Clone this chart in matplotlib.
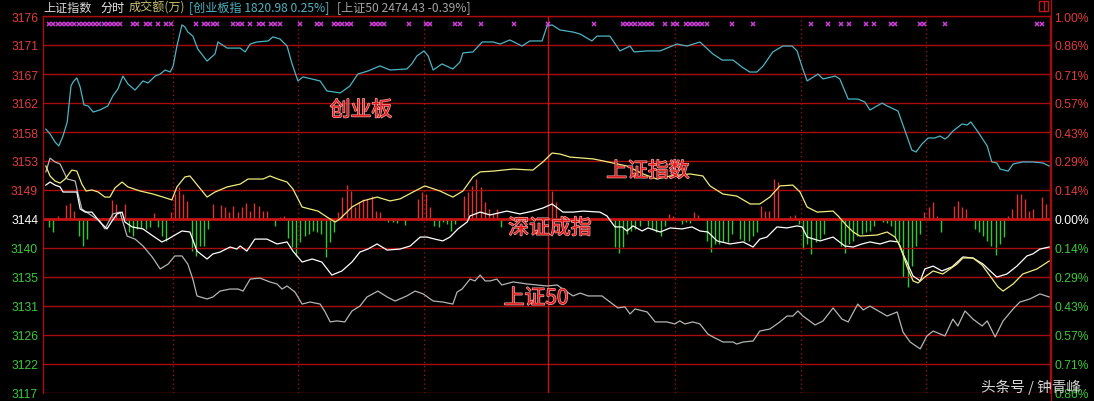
import numpy as np
import matplotlib
matplotlib.use("Agg")
import matplotlib.pyplot as plt
from matplotlib import patheffects as pe
from matplotlib.patches import Rectangle
from matplotlib.lines import Line2D
import matplotlib.transforms as mtransforms

plt.rcParams['font.family'] = ['Noto Sans CJK SC', 'DejaVu Sans']

# 分时: minute since 9:30 (0..240), change in percent
cyb = [(0.2, .443), (1.2, .419), (2.4, .379), (3.3, .360), (4.3, .409), (5.3, .478), (6.2, .655), (6.7, .675),
       (7.6, .695), (8.4, .650), (9.3, .562), (10.3, .557), (11.5, .527), (13.1, .537), (15.0, .557), (16.2, .606),
       (17.4, .640), (18.6, .704), (19.8, .665), (21.5, .635), (23.4, .680), (24.6, .670), (26.3, .704), (27.5, .714),
       (28.7, .734), (29.9, .724), (30.6, .754), (31.5, .852), (32.7, .956), (33.4, .946), (34.1, .921), (35.3, .901),
       (36.5, .837), (38.7, .778), (40.6, .813), (41.3, .872), (43.5, .842), (46.6, .842), (47.8, .823), (49.0, .862),
       (50.6, .872), (53.3, .877), (54.4, .897), (56.1, .887), (57.8, .852), (59.0, .764), (60.4, .680), (61.6, .700),
       (65.7, .680), (67.3, .631), (70.5, .621), (72.8, .655), (74.7, .714), (77.1, .729), (80.0, .754), (82.4, .734),
       (86.4, .739), (87.6, .764), (88.8, .803), (90.5, .828), (91.5, .803), (92.7, .734), (94.8, .764), (97.4, .739),
       (99.1, .773), (99.8, .818), (102.2, .823), (104.4, .872), (107.0, .872), (108.7, .862), (111.0, .882),
       (113.9, .852), (115.8, .877), (118.7, .877), (119.9, .951), (121.1, .956), (123.0, .931), (126.1, .921),
       (127.8, .911), (130.6, .877), (131.8, .901), (134.9, .901), (137.3, .828), (139.7, .852), (140.7, .823),
       (143.8, .828), (146.9, .828), (150.9, .862), (153.3, .852), (156.4, .872), (159.5, .813), (161.7, .783),
       (164.3, .783), (166.4, .749), (168.3, .724), (170.0, .724), (171.5, .754), (173.8, .823), (176.2, .852),
       (178.4, .852), (179.6, .828), (180.8, .749), (182.0, .680), (184.6, .714), (185.8, .690), (188.7, .704),
       (189.8, .690), (191.8, .591), (194.1, .591), (195.8, .576), (197.0, .537), (199.9, .571), (201.1, .557),
       (203.7, .532), (205.4, .433), (207.0, .340), (208.0, .330), (209.4, .369), (210.9, .399), (212.5, .399),
       (213.7, .409), (214.9, .394), (215.6, .404), (216.8, .433), (219.0, .468), (220.2, .463), (221.1, .478),
       (222.8, .429), (225.0, .360), (226.1, .281), (227.3, .276), (228.1, .246), (230.0, .236), (231.2, .271),
       (233.5, .281), (235.9, .281), (238.3, .276), (239.8, .261)]

shzs = [(0.2, .261), (1.2, .212), (2.4, .187), (3.6, .177), (4.8, .197), (6.4, .241), (7.6, .236), (8.8, .172),
        (9.8, .138), (11.2, .143), (12.7, .133), (14.3, .108), (15.5, .108), (16.7, .153), (18.4, .182), (19.8, .158),
        (22.7, .138), (25.8, .123), (28.2, .108), (30.3, .094), (31.5, .158), (33.4, .207), (34.6, .212), (35.8, .182),
        (38.7, .108), (40.6, .133), (43.5, .158), (46.6, .172), (48.5, .197), (52.1, .197), (53.7, .212), (55.6, .197),
        (57.8, .182), (59.2, .148), (61.4, .059), (63.3, .049), (65.2, .039), (67.3, .010), (69.3, -.015), (70.4, 0.0),
        (73.3, .059), (75.9, .089), (79.3, .108), (82.4, .089), (84.8, .099), (87.9, .133), (90.7, .163), (94.3, .138),
        (97.4, .108), (99.8, .138), (102.2, .207), (103.9, .232), (107.0, .236), (111.8, .246), (116.5, .241),
        (118.9, .281), (121.1, .325), (123.0, .320), (125.4, .305), (130.9, .296), (133.3, .286), (139.0, .261),
        (142.8, .222), (146.1, .197), (149.3, .212), (154.0, .222), (157.1, .212), (158.8, .163), (161.9, .123),
        (165.2, .113), (168.4, .074), (170.7, .074), (173.1, .108), (175.5, .163), (178.6, .167), (180.3, .133),
        (182.0, .059), (184.4, .034), (188.2, .039), (189.4, .015), (191.5, -.034), (193.0, -.064), (194.6, -.084),
        (198.7, -.079), (201.1, -.064), (203.0, -.089), (204.2, -.133), (205.8, -.232), (207.3, -.305), (208.5, -.315),
        (210.1, -.286), (212.1, -.256), (214.4, -.271), (217.8, -.222), (219.2, -.192), (221.6, -.192), (223.8, -.227),
        (225.7, -.281), (227.6, -.335), (228.8, -.355), (231.2, -.320), (233.5, -.271), (236.9, -.246), (239.8, -.207)]

szcz = [(0.2, .167), (1.2, .182), (2.4, .167), (3.6, .158), (4.3, .133), (6.4, .133), (7.6, .133), (8.4, .049),
        (9.6, .034), (11.2, .034), (13.1, -.015), (14.8, -.049), (16.0, -.010), (17.2, .025), (18.4, .034),
        (19.1, -.015), (20.8, -.039), (23.4, -.049), (25.8, -.084), (27.9, -.113), (29.4, -.099), (30.6, -.084),
        (32.7, -.059), (34.6, -.064), (36.3, -.158), (38.7, -.197), (40.1, -.172), (41.8, -.163), (44.2, -.138),
        (45.8, -.148), (46.6, -.133), (48.2, -.158), (50.1, -.099), (53.0, -.099), (55.4, -.123), (57.8, -.113),
        (59.2, -.158), (61.4, -.212), (63.8, -.197), (66.1, -.212), (68.5, -.276), (70.9, -.256), (73.3, -.212),
        (75.2, -.163), (77.1, -.148), (79.3, -.123), (81.7, -.153), (84.8, -.148), (87.2, -.133), (89.6, -.089),
        (91.2, -.089), (93.1, -.099), (95.0, -.108), (96.7, -.089), (98.6, -.049), (100.8, -.015), (101.5, .015),
        (103.9, .034), (106.3, .020), (110.3, .039), (113.4, .025), (116.5, .039), (118.9, .054), (121.1, .074),
        (123.7, .034), (126.1, .034), (128.5, .039), (132.5, .034), (134.2, .015), (136.1, -.039), (137.8, -.039),
        (139.0, -.059), (140.4, -.034), (142.6, -.059), (144.0, -.044), (146.9, -.064), (149.3, -.044), (152.1, -.049),
        (154.5, -.039), (156.4, -.059), (158.3, -.064), (160.5, -.108), (163.6, -.123), (166.7, -.113), (169.1, -.138),
        (170.7, -.099), (172.4, -.089), (174.8, -.039), (177.2, -.044), (179.6, -.034), (180.8, -.039), (182.0, -.089),
        (185.1, -.108), (188.2, -.089), (191.0, -.133), (193.0, -.138), (195.1, -.123), (197.0, -.113), (199.4, -.123),
        (201.8, -.108), (203.7, -.113), (204.7, -.163), (205.8, -.212), (207.3, -.281), (209.0, -.305), (210.1, -.246),
        (212.1, -.232), (214.2, -.256), (216.6, -.236), (219.2, -.187), (221.6, -.192), (224.0, -.222), (225.2, -.246),
        (227.3, -.286), (229.7, -.271), (232.1, -.232), (234.5, -.182), (235.9, -.172), (237.6, -.148), (239.8, -.138)]

sz50 = [(0.2, .232), (1.2, .300), (2.4, .281), (3.6, .271), (5.3, .197), (7.2, .187), (7.9, .123), (8.8, .049),
        (13.1, -.010), (14.3, -.049), (16.2, .025), (17.9, .034), (19.6, -.084), (21.5, -.099), (23.4, -.133),
        (25.6, -.187), (27.5, -.246), (29.4, -.222), (31.0, -.182), (32.7, -.182), (34.1, -.222), (35.3, -.296),
        (36.3, -.379), (38.7, -.394), (40.1, -.384), (41.8, -.355), (44.2, -.345), (46.1, -.345), (47.3, -.355),
        (49.0, -.296), (51.3, -.291), (53.7, -.310), (55.4, -.320), (56.6, -.345), (57.8, -.330), (59.7, -.360),
        (61.4, -.419), (63.3, -.409), (65.7, -.419), (66.9, -.458), (68.1, -.507), (69.7, -.502), (71.6, -.507),
        (73.3, -.453), (75.2, -.429), (76.9, -.384), (79.5, -.355), (81.7, -.384), (83.6, -.404), (86.4, -.379),
        (88.4, -.355), (90.3, -.369), (92.7, -.404), (95.0, -.409), (97.4, -.419), (98.4, -.360), (99.6, -.345),
        (101.5, -.296), (102.7, -.305), (103.9, -.276), (105.1, -.305), (106.3, -.305), (107.9, -.296), (109.1, -.325),
        (111.8, -.310), (115.1, -.320), (117.5, -.325), (119.9, -.330), (122.3, -.325), (124.7, -.360), (126.1, -.379),
        (127.8, -.365), (129.7, -.379), (133.0, -.379), (135.6, -.419), (136.8, -.438), (138.5, -.433), (139.7, -.468),
        (140.9, -.443), (143.8, -.458), (145.7, -.507), (148.5, -.507), (150.4, -.517), (151.6, -.502), (152.8, -.517),
        (154.7, -.507), (156.4, -.517), (158.3, -.567), (159.5, -.581), (161.9, -.606), (164.3, -.606), (165.2, -.616),
        (166.7, -.606), (169.1, -.601), (170.7, -.552), (173.1, -.542), (175.5, -.507), (177.2, -.478), (178.6, -.478),
        (179.8, -.453), (181.0, -.478), (183.9, -.522), (185.8, -.502), (188.2, -.438), (190.3, -.493), (191.8, -.507),
        (194.1, -.419), (195.4, -.448), (197.0, -.429), (199.4, -.458), (201.1, -.478), (203.5, -.458), (204.9, -.557),
        (206.6, -.606), (209.0, -.640), (210.6, -.576), (212.1, -.552), (214.9, -.576), (216.8, -.493), (218.0, -.527),
        (219.7, -.453), (221.6, -.493), (223.8, -.527), (225.0, -.502), (226.9, -.581), (228.8, -.502), (231.2, -.443),
        (232.8, -.409), (235.2, -.394), (237.6, -.369), (239.8, -.384)]

# 红绿柱 (minute, value)
bars = [(1, -8), (2, -13), (3, 3), (5, 14), (6, 16), (7, 8), (8, -17), (9, -27), (10, -20), (16, 19), (17, 15),
        (19, 15), (20, -13), (21, -17), (22, -10), (23, -9), (24, -10), (25, -8), (26, 6), (27, -8), (28, -17),
        (29, -22), (30, 7), (31, 25), (32, 32), (33, 25), (34, 18), (35, -32), (36, -37), (37, -27), (38, -27),
        (39, -10), (40, 15), (42, 14), (43, 12), (44, 7), (45, 13), (46, 7), (47, 12), (48, 16), (49, 8), (50, 16),
        (51, 13), (52, 8), (53, 8), (55, -7), (56, 2), (57, 3), (58, -19), (59, -28), (60, -37), (61, -23),
        (62, -17), (63, -15), (64, -12), (65, -13), (66, -15), (67, -38), (68, -23), (69, -13), (70, 7), (71, 22),
        (72, 34), (73, 28), (74, 12), (75, 17), (76, 20), (77, 20), (78, 23), (79, 8), (80, 7), (82, -3), (83, -3),
        (84, -4), (86, -6), (89, 20), (90, 27), (91, 25), (92, 12), (93, -7), (94, -8), (95, -3), (96, -5),
        (97, -12), (98, -5), (100, 23), (101, 27), (102, 33), (103, 40), (104, 32), (105, 17), (106, 10), (107, 5),
        (108, 10), (109, -8), (121, 28), (122, 17), (136, -28), (137, -34), (138, -28), (139, -15), (140, -12),
        (141, -10), (142, -7), (144, -7), (145, -10), (146, -13), (147, -17), (148, -7), (149, 5), (150, 3),
        (152, -5), (153, -3), (154, -4), (155, 7), (156, 4), (158, -22), (159, -33), (160, -25), (161, -25),
        (162, -23), (163, -23), (164, -15), (166, -20), (167, -22), (168, -22), (169, -17), (170, -13), (171, 13),
        (172, 8), (173, 8), (174, 40), (175, 37), (178, 3), (179, 4), (180, -5), (181, -30), (182, -25), (183, -35),
        (184, -23), (185, -20), (186, -15), (190, -27), (191, -34), (192, -25), (193, -22), (194, -17), (195, -15),
        (196, -13), (197, -12), (198, -7), (200, -3), (201, -4), (202, -7), (203, -18), (204, -23), (205, -58),
        (206, -68), (207, -47), (208, -27), (209, -15), (210, 7), (211, 12), (212, 17), (213, 3), (214, -13),
        (217, 13), (218, 18), (219, 12), (220, 10), (222, -10), (223, -13), (224, -17), (225, -22), (226, -27),
        (227, -36), (228, -25), (229, -18), (230, 3), (231, 10), (232, 25), (233, 25), (234, 20), (235, 8),
        (236, 10), (238, 22), (239, 15)]

# 紫色标记所在分钟
marks = list(range(1, 19)) + [21, 22, 24, 25, 27, 29, 30, 36, 38, 39, 40, 41, 45, 46, 47, 49, 51, 52, 54, 55, 56,
                              61, 65, 66, 69, 70, 71, 72, 73, 78, 79, 80, 81, 87, 91, 92, 98, 99, 104, 112, 120,
                              131, 138, 139, 140, 141, 142, 143, 144, 145, 148, 150, 151, 153, 154, 155, 156, 157,
                              158, 164, 169, 183, 187, 190, 192, 196, 198, 202, 203, 209, 210, 215, 237, 238]

pct_levels = [-6, -5, -4, -3, -2, -1, 0, 1, 2, 3, 4, 5, 6, 7]
left_labels = ['3117', '3122', '3126', '3131', '3135', '3140', '3144',
               '3149', '3153', '3158', '3162', '3167', '3171', '3176']
right_labels = ['0.86%', '0.71%', '0.57%', '0.43%', '0.29%', '0.14%', '0.00%',
                '0.14%', '0.29%', '0.43%', '0.57%', '0.71%', '0.86%', '1.00%']

W, H = 1094, 402
grid_red = '#a80c0c'
red_txt = '#e03c3c'
green_txt = '#3cc83c'

fig = plt.figure(figsize=(W / 100, H / 100), dpi=100, facecolor='black')
ax = fig.add_axes([43 / W, 8 / H, 1007 / W, 377 / H])
ax.set_facecolor('black')
ax.set_xlim(-0.48, 240)
ax.set_ylim(-6 / 7, 1.0)

levels = [k / 7 for k in pct_levels]
for k, lv in zip(pct_levels, levels):
    if k == 0:
        ax.axhline(lv, color='#c81414', lw=2.0, zorder=1)
    else:
        ax.axhline(lv, color=grid_red, lw=1.0, zorder=1)
for m in [30, 60, 90, 150, 180, 210]:
    ax.axvline(m + 0.5, color='#b01010', lw=0.9, ls=(0, (1, 2.5)), zorder=1)
ax.axvline(120, color='#c81414', lw=1.0, zorder=1)

for side in ['left', 'right', 'top']:
    ax.spines[side].set_color(grid_red)
    ax.spines[side].set_linewidth(1.0)
ax.spines['bottom'].set_visible(False)
ax.set_xticks([])

ax.set_yticks(levels)
ax.set_yticklabels(left_labels, family='Liberation Sans', fontsize=8.7)
ax.tick_params(axis='y', length=0, pad=3.5)
for lab, k in zip(ax.get_yticklabels(), pct_levels):
    lab.set_color(red_txt if k > 0 else ('white' if k == 0 else green_txt))

sec = ax.secondary_yaxis('right')
sec.set_yticks(levels)
sec.set_yticklabels(right_labels, family='Liberation Sans', fontsize=8.7)
sec.tick_params(axis='y', length=0, pad=3)
sec.spines['right'].set_color(grid_red)
for lab, k in zip(sec.get_yticklabels(), pct_levels):
    lab.set_color(red_txt if k > 0 else ('white' if k == 0 else green_txt))

# bars on their own scale, zero on the centre line
axb = ax.twinx()
axb.set_ylim(-174, 203)
axb.set_axis_off()
bm = np.array([b[0] for b in bars])
bv = np.array([b[1] for b in bars])
axb.vlines(bm[bv > 0], 0, bv[bv > 0], colors='#e03232', lw=1.0)
axb.vlines(bm[bv < 0], 0, bv[bv < 0], colors='#32c832', lw=1.0)
axb.set_zorder(ax.get_zorder() - 1)
ax.patch.set_visible(False)
fig.patches.append(Rectangle((43 / W, 8 / H), 1007 / W, 377 / H, transform=fig.transFigure,
                             facecolor='black', edgecolor='none', zorder=-10))


def xy(series):
    arr = np.array(series)
    return arr[:, 0], arr[:, 1]


t, v = xy(sz50)
ax.plot(t, v, color='#b4b4b4', lw=0.9, zorder=4)
t, v = xy(szcz)
ax.plot(t, v, color='#ffffff', lw=0.9, zorder=5)
t, v = xy(shzs)
ax.plot(t, v, color='#f0ec7c', lw=0.9, zorder=6)
t, v = xy(cyb)
ax.plot(t, v, color='#4cb4c4', lw=0.9, zorder=6)

trans = mtransforms.blended_transform_factory(ax.transData, ax.transAxes)
ax.plot(marks, [0.979] * len(marks), ls='none', marker='x', ms=3.2, mew=1.1,
        color='#d040d8', transform=trans, zorder=7)

# overlay labels
lab_fx = [pe.withStroke(linewidth=0.9, foreground='#f0b4b4')]
for txt, cx, cy in [('创业板', 361, 111), ('上证指数', 648, 172), ('深证成指', 550, 229), ('上证50', 536, 299)]:
    fig.text(cx / W, 1 - cy / H, txt, color='#e41a1a', fontsize=15, ha='center', va='center',
             path_effects=lab_fx, zorder=20)

# header
hdr = [('上证指数', 43, '#d8d8d8'), ('分时', 100, '#ececec'), ('成交额(万)', 129, '#c8c070'),
       ('[创业板指 1820.98 0.25%]', 189, '#50b4c0'), ('[上证50 2474.43 -0.39%]', 337, '#a4a4a4')]
for txt, x0, c in hdr:
    fig.text(x0 / W, 1 - 8 / H, txt, color=c, fontsize=8.7, ha='left', va='center')

# right border line up to the top and the small icon
fig.lines.append(Line2D([1050.5 / W, 1050.5 / W], [0, 1], transform=fig.transFigure, color=grid_red, lw=1.0))
fig.patches.append(Rectangle((1038.5 / W, 1 - 12 / H), 9 / W, 10 / H, transform=fig.transFigure,
                             facecolor='none', edgecolor='#c01818', lw=1.0))
fig.lines.append(Line2D([1043.5 / W, 1043.5 / W], [1 - 12 / H, 1 - 2 / H], transform=fig.transFigure,
                        color='#c01818', lw=1.0))

# watermark (sits over the bottom right label, as in the source screenshot)
fig.text(1031 / W, 1 - 387 / H, '头条号 / 钟青峰', color='#e8e8e8', alpha=0.92, fontsize=10.5,
         ha='center', va='center', zorder=30)

fig.savefig('out.png', dpi=100, facecolor='black')
